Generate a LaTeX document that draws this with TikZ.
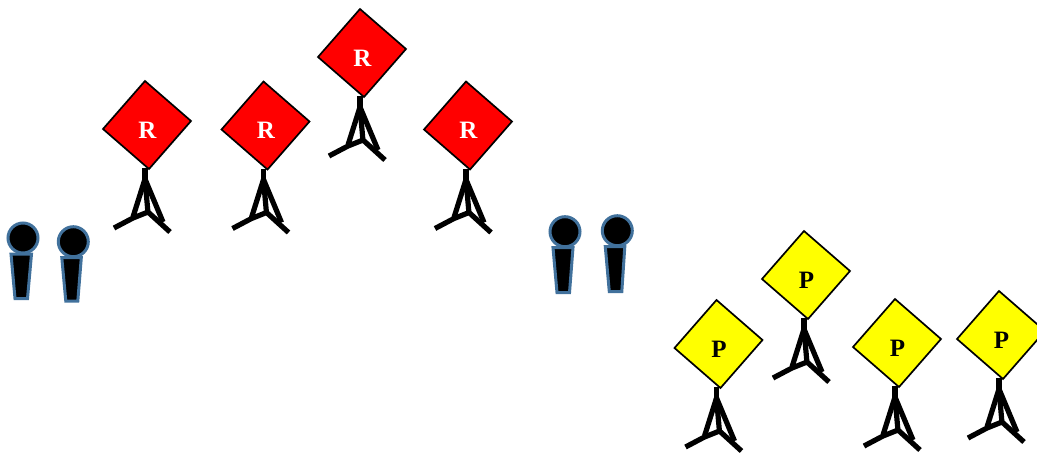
\documentclass[tikz,border=0pt]{standalone}
\usepackage{fontspec}
\setmainfont{Liberation Serif}
\definecolor{personblue}{HTML}{41719C}
\definecolor{signyellow}{RGB}{255,255,0}
\definecolor{signred}{RGB}{255,0,0}
\tikzset{
  x=1pt,y=-1pt,
  signlabel/.style={font=\fontsize{25}{25}\selectfont\bfseries,inner sep=0pt,text=#1},
  signface/.style={draw=black,line width=1.7pt,fill=#1,line join=miter},
  standline/.style={draw=black,line width=5.2pt,line cap=butt,line join=miter},
  personshape/.style={draw=personblue,line width=3pt,fill=black,line join=miter},
  pics/sign/.style n args={3}{code={
    \path[standline] (-2,43) -- (-2,59);
    \path[standline] (-2,54) -- (-14,92);
    \path[standline] (-2,54) -- (1,88);
    \path[standline] (-2,54) -- (16,97);
    \path[standline] (-33,103) -- (-14,93) -- (1,87) -- (23,107);
    \path[signface=#1] (-2,-44) -- (44,-4) -- (2,44) -- (-44,4) -- cycle;
    \node[signlabel=#2] at (0.5,5) {#3};
  }},
  pics/person/.style n args={6}{code={
    \path[personshape] (0,0) circle[radius=15];
    \path[personshape] (#1,#2) -- (#3,#2) -- (#5,#6) -- (#4,#6) -- cycle;
  }}
}
\begin{document}
\begin{tikzpicture}
\useasboundingbox (0,0) rectangle (1037,453);
\path (147,125) pic {sign={signred}{white}{R}};
\path (265.5,125.5) pic {sign={signred}{white}{R}};
\path (362,53) pic {sign={signred}{white}{R}};
\path (468,125.5) pic {sign={signred}{white}{R}};
\path (718.5,344) pic {sign={signyellow}{black}{P}};
\path (806,275) pic {sign={signyellow}{black}{P}};
\path (897,343) pic {sign={signyellow}{black}{P}};
\path (1001,335) pic {sign={signyellow}{black}{P}};
\path (23,238) pic {person={-12}{16}{8.5}{-8}{4.5}{60.5}};
\path (73.3,241.7) pic {person={-11.5}{16}{8}{-7.5}{4.5}{59.5}};
\path (565,231.7) pic {person={-12}{16}{8}{-8}{4.5}{61}};
\path (617.3,230.7) pic {person={-12}{16}{7.5}{-8}{4.5}{61}};
\end{tikzpicture}
\end{document}
